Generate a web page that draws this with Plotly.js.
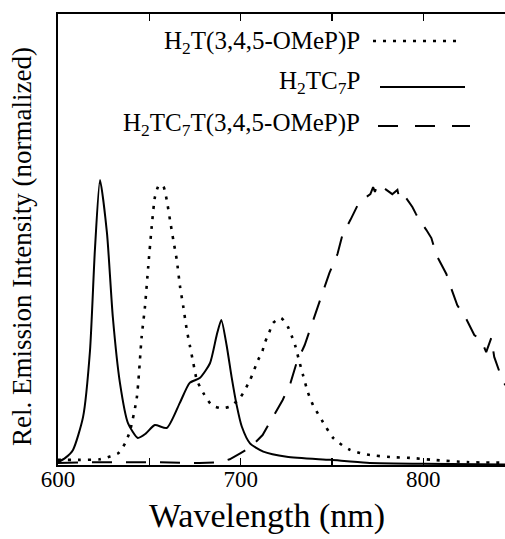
<!DOCTYPE html>
<html>
<head>
<meta charset="utf-8">
<script src="https://cdn.plot.ly/plotly-3.0.1.min.js"></script>
<style>html,body{margin:0;padding:0;background:#fff;}#chart{width:505px;height:539px;}</style>
</head>
<body>
<div id="chart"></div>
<script>
// H2T(3,4,5-OMeP)P (dotted)
const wlDotted = [600,601.1,612,623,628.5,633,636.7,639.3,643.1,645.8,647.6,649.4,651.3,653.1,655.3,657.7,659.5,661.3,663.1,665,666.8,668.6,670.5,672.3,674.1,676,679.6,684.2,689.6,694.2,699.6,705.1,709.5,711.7,713.3,715.5,717.7,722.1,725.9,728.1,729.8,731.9,734.1,736.9,739.6,742.3,745.1,750.6,755.5,759.9,765.3,770.8,781.8,792.7,805.3,823.9,845];
const valDotted = [0.018,0.018,0.018,0.02,0.03,0.041,0.076,0.117,0.234,0.45,0.555,0.696,0.836,0.941,0.982,0.977,0.93,0.86,0.79,0.72,0.626,0.555,0.474,0.415,0.357,0.298,0.252,0.21,0.199,0.205,0.235,0.298,0.368,0.396,0.43,0.463,0.498,0.516,0.484,0.45,0.42,0.368,0.316,0.253,0.21,0.18,0.15,0.095,0.07,0.053,0.042,0.035,0.028,0.025,0.018,0.01,0.008];

// H2TC7P (solid)
const wlSolid = [600,604,608.2,613.7,617.5,620.2,623,626.8,630,633.9,638.3,643.7,648,653,659.6,666.7,672.1,677.6,683.2,686.9,689.4,692.3,695,697.8,700.6,705.1,712.4,725.2,749,769,800,845];
const valSolid = [0.01,0.025,0.053,0.168,0.40,0.754,1.0,0.814,0.52,0.288,0.147,0.095,0.11,0.14,0.13,0.218,0.288,0.305,0.357,0.456,0.509,0.42,0.31,0.21,0.135,0.076,0.047,0.029,0.018,0.008,0.004,0.002];

// H2TC7T(3,4,5-OMeP)P (dashed)
const wlDashed = [600,623,650,677.6,688.5,694,699.5,705,712,717.5,723,727.3,730.6,735,738.8,742,747,748.6,753,755.7,760.1,765,771,772.5,773.5,775,777.6,783,785.8,787,790.2,794,796,797.8,801.6,804.4,807.1,812.6,815.8,818.6,822.4,825.1,827.9,831.7,834.4,837.2,838.8,841.5,843.2,845];
const valDashed = [0.007,0.01,0.01,0.007,0.01,0.02,0.04,0.06,0.105,0.165,0.228,0.288,0.358,0.42,0.491,0.554,0.646,0.674,0.74,0.807,0.86,0.924,0.95,0.975,0.958,0.985,0.975,0.95,0.965,0.93,0.94,0.905,0.88,0.86,0.825,0.796,0.737,0.67,0.61,0.56,0.526,0.49,0.456,0.438,0.396,0.446,0.379,0.33,0.298,0.28];

const seriesNames = ['H<sub>2</sub>T(3,4,5-OMeP)P','H<sub>2</sub>TC<sub>7</sub>P','H<sub>2</sub>TC<sub>7</sub>T(3,4,5-OMeP)P'];
const xTitle = 'Wavelength (nm)';
const yTitle = 'Rel. Emission Intensity (normalized)';

const serif = 'Liberation Serif, Times New Roman, serif';
const L = 58, T = 14, W = 505, H = 539, B = 74;
const pw = W - L, ph = H - T - B;
const px = v => (v - L) / pw;
const py = v => (H - B - v) / ph;

const dotDash = '3px,7px';
const traces = [
  {x: wlDotted, y: valDotted, mode: 'lines', line: {color: '#000', width: 2.6, dash: dotDash, shape: 'spline', smoothing: 0.6}, showlegend: false},
  {x: wlSolid, y: valSolid, mode: 'lines', line: {color: '#000', width: 2, shape: 'spline', smoothing: 0.6}, showlegend: false},
  {x: wlDashed, y: valDashed, mode: 'lines', line: {color: '#000', width: 2, dash: '20px,14px'}, showlegend: false}
];

const legendRows = [
  {cy: 42, ly: 41, x0: 373, x1: 462, dash: dotDash, w: 2.6},
  {cy: 83, ly: 87, x0: 380, x1: 465, dash: 'solid', w: 2},
  {cy: 124, ly: 126, x0: 378, x1: 470, dash: '20px,17px', w: 2}
];

const annotations = legendRows.map((r, i) => ({
  text: seriesNames[i], xref: 'paper', yref: 'paper', x: px(362), y: py(r.cy),
  xanchor: 'right', yanchor: 'middle', showarrow: false,
  font: {family: serif, size: 25, color: '#000'}
}));
annotations.push({
  text: xTitle, xref: 'paper', yref: 'paper', x: px(267), y: py(516),
  xanchor: 'center', yanchor: 'middle', showarrow: false,
  font: {family: serif, size: 34, color: '#000'}
});
annotations.push({
  text: yTitle, xref: 'paper', yref: 'paper', x: px(22), y: py(247),
  xanchor: 'center', yanchor: 'middle', showarrow: false, textangle: -90,
  font: {family: serif, size: 27, color: '#000'}
});

const shapes = legendRows.map(r => ({
  type: 'line', xref: 'paper', yref: 'paper', x0: px(r.x0), x1: px(r.x1), y0: py(r.ly), y1: py(r.ly),
  line: {color: '#000', width: r.w, dash: r.dash}
}));

const layout = {
  width: W, height: H,
  margin: {l: L, r: 0, t: T, b: B, pad: 0},
  paper_bgcolor: '#fff', plot_bgcolor: '#fff',
  showlegend: false,
  xaxis: {
    range: [600, 844.7], showgrid: false, zeroline: false,
    showline: true, linecolor: '#000', linewidth: 2, mirror: 'ticks',
    ticks: 'inside', ticklen: 7, tickwidth: 1.5, tickcolor: '#000',
    tick0: 600, dtick: 100, ticklabelstandoff: -8,
    minor: {dtick: 50, ticks: 'inside', ticklen: 7, tickwidth: 1.5, tickcolor: '#000', showgrid: false},
    tickfont: {family: serif, size: 23, color: '#000'}
  },
  yaxis: {
    range: [0, 1.582], showgrid: false, zeroline: false,
    showline: true, linecolor: '#000', linewidth: 2,
    ticks: '', showticklabels: false
  },
  annotations: annotations,
  shapes: shapes
};

Plotly.newPlot('chart', traces, layout, {staticPlot: true, displayModeBar: false});
</script>
</body>
</html>
